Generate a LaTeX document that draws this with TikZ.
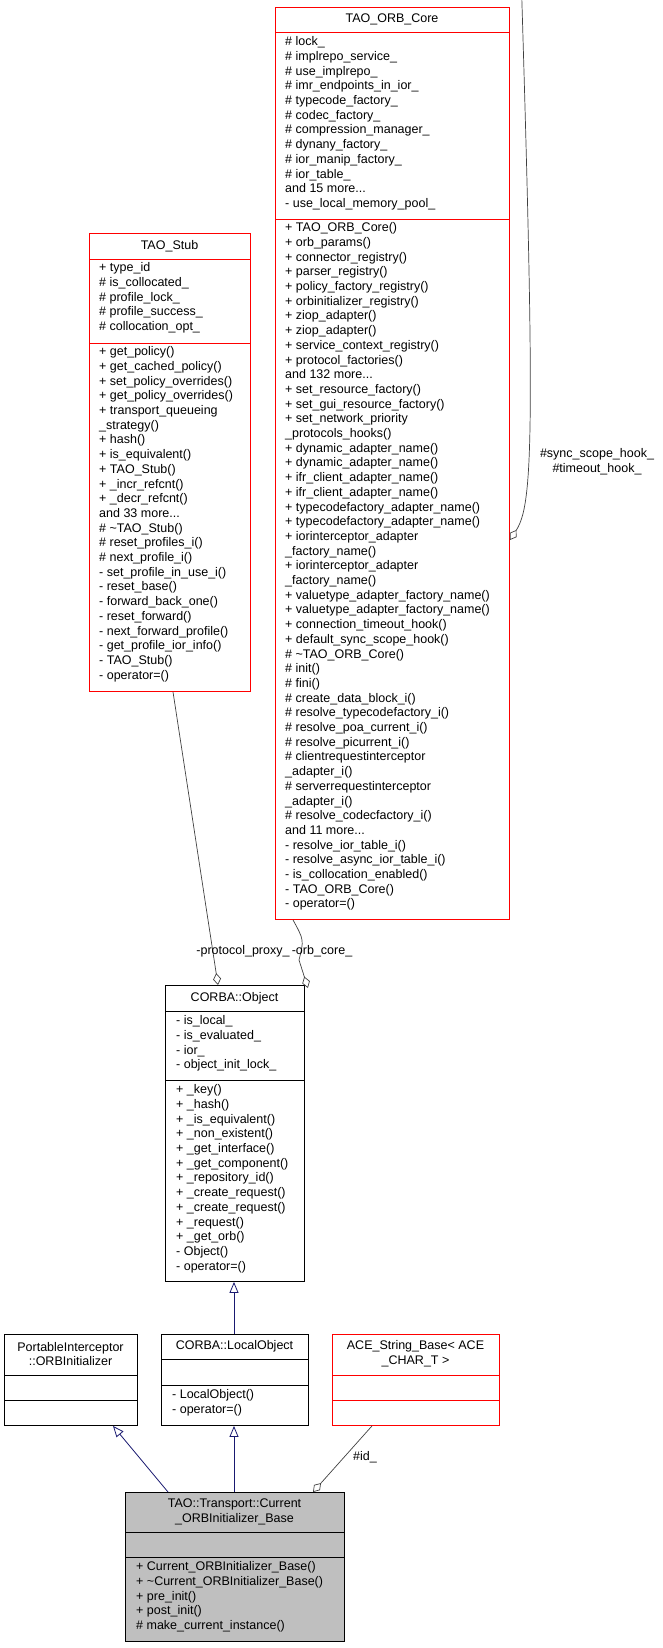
\documentclass[tikz,border=0pt]{standalone}
\usepackage{fontspec}
\setmainfont{Liberation Sans}
\usetikzlibrary{arrows.meta}
\catcode`\_=12

\definecolor{edgegray}{HTML}{404040}
\definecolor{inhblue}{HTML}{191970}
\definecolor{focusfill}{HTML}{BFBFBF}

\tikzset{
    cls/.style={draw=black, line width=0.9pt, inner sep=0pt},
    redcls/.style={draw=red, line width=0.9pt, inner sep=0pt},
    members/.style={anchor=north west, inner sep=0pt, align=left, font=\fontsize{12.5}{14.7}\selectfont},
    title/.style={inner sep=0pt, align=center, font=\fontsize{12.5}{14.7}\selectfont},
    aggr/.style={draw=edgegray, line width=0.7pt, {Diamond[open, length=12pt, width=8pt]}-},
    inh/.style={draw=inhblue, line width=0.8pt, {Triangle[open, length=11pt, width=9pt]}-},
    role/.style={inner sep=0pt, font=\fontsize{12.5}{14.7}\selectfont}
}

\begin{document}
\begin{tikzpicture}[x=1pt, y=-1pt]
    \useasboundingbox (0,0) rectangle (663,1648);

    % TAO_ORB_Core
    \draw[redcls, fill=white] (275,7) rectangle (509,919);
    \node[redcls, draw=none, minimum width=234, minimum height=912, anchor=north west] (core) at (275,7) {};
    \draw[red, line width=0.9pt] (275,32) -- (509,32);
    \draw[red, line width=0.9pt] (275,219) -- (509,219);
    \node[title] (coretitle) at (392,19.5) {TAO_ORB_Core};
    \node[members] (coreattr) at (285,36.5) {\# lock_\\\# implrepo_service_\\\# use_implrepo_\\\# imr_endpoints_in_ior_\\\# typecode_factory_\\\# codec_factory_\\\# compression_manager_\\\# dynany_factory_\\\# ior_manip_factory_\\\# ior_table_\\and 15 more...\\- use_local_memory_pool_};
    \node[members] (coreops) at (285,222.5) {+ TAO_ORB_Core()\\+ orb_params()\\+ connector_registry()\\+ parser_registry()\\+ policy_factory_registry()\\+ orbinitializer_registry()\\+ ziop_adapter()\\+ ziop_adapter()\\+ service_context_registry()\\+ protocol_factories()\\and 132 more...\\+ set_resource_factory()\\+ set_gui_resource_factory()\\+ set_network_priority\\_protocols_hooks()\\+ dynamic_adapter_name()\\+ dynamic_adapter_name()\\+ ifr_client_adapter_name()\\+ ifr_client_adapter_name()\\+ typecodefactory_adapter_name()\\+ typecodefactory_adapter_name()\\+ iorinterceptor_adapter\\_factory_name()\\+ iorinterceptor_adapter\\_factory_name()\\+ valuetype_adapter_factory_name()\\+ valuetype_adapter_factory_name()\\+ connection_timeout_hook()\\+ default_sync_scope_hook()\\\# \textasciitilde TAO_ORB_Core()\\\# init()\\\# fini()\\\# create_data_block_i()\\\# resolve_typecodefactory_i()\\\# resolve_poa_current_i()\\\# resolve_picurrent_i()\\\# clientrequestinterceptor\\_adapter_i()\\\# serverrequestinterceptor\\_adapter_i()\\\# resolve_codecfactory_i()\\and 11 more...\\- resolve_ior_table_i()\\- resolve_async_ior_table_i()\\- is_collocation_enabled()\\- TAO_ORB_Core()\\- operator=()};

    % TAO_Stub
    \node[redcls, minimum width=161, minimum height=458, anchor=north west] (stub) at (89,233) {};
    \draw[red, line width=0.9pt] (89,259) -- (250,259);
    \draw[red, line width=0.9pt] (89,343) -- (250,343);
    \node[title] (stubtitle) at (169.5,246) {TAO_Stub};
    \node[members] (stubattr) at (99,262.5) {+ type_id\\\# is_collocated_\\\# profile_lock_\\\# profile_success_\\\# collocation_opt_};
    \node[members] (stubops) at (99,346.5) {+ get_policy()\\+ get_cached_policy()\\+ set_policy_overrides()\\+ get_policy_overrides()\\+ transport_queueing\\_strategy()\\+ hash()\\+ is_equivalent()\\+ TAO_Stub()\\+ _incr_refcnt()\\+ _decr_refcnt()\\and 33 more...\\\# \textasciitilde TAO_Stub()\\\# reset_profiles_i()\\\# next_profile_i()\\- set_profile_in_use_i()\\- reset_base()\\- forward_back_one()\\- reset_forward()\\- next_forward_profile()\\- get_profile_ior_info()\\- TAO_Stub()\\- operator=()};

    % CORBA::Object
    \node[cls, minimum width=139, minimum height=296, anchor=north west] (object) at (165,985) {};
    \draw[line width=0.9pt] (165,1011) -- (304,1011);
    \draw[line width=0.9pt] (165,1080) -- (304,1080);
    \node[title] (objecttitle) at (234.5,998) {CORBA::Object};
    \node[members] (objectattr) at (176,1015.5) {- is_local_\\- is_evaluated_\\- ior_\\- object_init_lock_};
    \node[members] (objectops) at (176,1084.5) {+ _key()\\+ _hash()\\+ _is_equivalent()\\+ _non_existent()\\+ _get_interface()\\+ _get_component()\\+ _repository_id()\\+ _create_request()\\+ _create_request()\\+ _request()\\+ _get_orb()\\- Object()\\- operator=()};

    % PortableInterceptor::ORBInitializer
    \node[cls, minimum width=133, minimum height=91, anchor=north west] (orbinit) at (4,1334) {};
    \draw[line width=0.9pt] (4,1375) -- (137,1375);
    \draw[line width=0.9pt] (4,1400) -- (137,1400);
    \node[title] (orbinittitle) at (70.5,1354) {PortableInterceptor\\::ORBInitializer};

    % CORBA::LocalObject
    \node[cls, minimum width=147, minimum height=91, anchor=north west] (localobj) at (161,1334) {};
    \draw[line width=0.9pt] (161,1359) -- (308,1359);
    \draw[line width=0.9pt] (161,1385) -- (308,1385);
    \node[title] (localobjtitle) at (234.5,1346.5) {CORBA::LocalObject};
    \node[members] (localobjops) at (172,1389.5) {- LocalObject()\\- operator=()};

    % ACE_String_Base
    \node[redcls, minimum width=167, minimum height=91, anchor=north west] (acestr) at (332,1334) {};
    \draw[red, line width=0.9pt] (332,1375) -- (499,1375);
    \draw[red, line width=0.9pt] (332,1400) -- (499,1400);
    \node[title] (acestrtitle) at (415.5,1354) {ACE_String_Base< ACE\\_CHAR_T >};

    % TAO::Transport::Current_ORBInitializer_Base
    \node[cls, fill=focusfill, minimum width=219, minimum height=149, anchor=north west] (current) at (125,1492) {};
    \draw[line width=0.9pt] (125,1532) -- (344,1532);
    \draw[line width=0.9pt] (125,1557) -- (344,1557);
    \node[title] (currenttitle) at (234.5,1512) {TAO::Transport::Current\\_ORBInitializer_Base};
    \node[members] (currentops) at (136,1561.5) {+ Current_ORBInitializer_Base()\\+ \textasciitilde Current_ORBInitializer_Base()\\+ pre_init()\\+ post_init()\\\# make_current_instance()};

    % connectors
    \draw[aggr] (object.north west) ++(53,0) coordinate (objtop) -- (stub.south west -| 173,0);
    \draw[aggr] (object.north east) ++(3,3) -- (299,960) .. controls (304,940) .. (core.south west -| 293,0);
    \draw[aggr] (core.north east) ++(0,533) .. controls (536,500) and (536,410) .. ([yshift=376]core.north east);
    \draw[inh] (object.south west -| 234,0) -- (localobj.north west -| 234,0);
    \draw[inh] (localobj.south west -| 234,0) -- (current.north west -| 234,0);
    \draw[inh] (orbinit.south west -| 113,0) -- (current.north west -| 168,0);
    \draw[aggr] (current.north west -| 313,0) -- (acestr.south west -| 372,0);

    % roles
    \node[role] (protolbl) at (243,951) {-protocol_proxy_};
    \node[role] (orblbl) at (322,951) {-orb_core_};
    \node[role, align=center] (hooklbl) at (597,461.5) {\#sync_scope_hook_\\\#timeout_hook_};
    \node[role] (idlbl) at (365,1457) {\#id_};
\end{tikzpicture}
\end{document}
